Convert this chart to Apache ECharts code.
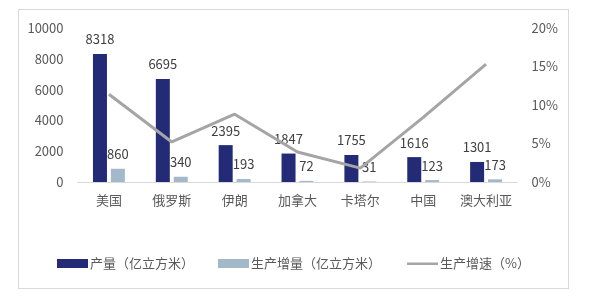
<!DOCTYPE html>
<html><head><meta charset="utf-8">
<script src="https://cdn.jsdelivr.net/npm/echarts@6/dist/echarts.min.js"></script>
<style>html,body{margin:0;padding:0;background:#fff}#frame{position:absolute;left:18px;top:9px;width:551px;height:280px;border:1px solid #d9d9d9;box-sizing:border-box}#c{position:absolute;left:0;top:0;width:594px;height:301px}</style>
</head><body><div id="frame"></div><div id="c"></div>
<script>
var categories = ['美国','俄罗斯','伊朗','加拿大','卡塔尔','中国','澳大利亚'];
var production = [8318, 6695, 2395, 1847, 1755, 1616, 1301];
var increase = [860, 340, 193, 72, 31, 123, 173];
var growth = [11.4, 5.2, 8.8, 3.9, 1.8, 8.4, 15.3];
var leftTicks = {min: 0, max: 10000, interval: 2000};
var rightTicks = {min: 0, max: 20, interval: 5};
var names = ['产量（亿立方米）', '生产增量（亿立方米）', '生产增速（%）'];

var font = '"Microsoft YaHei","Noto Sans CJK SC",sans-serif';
var lineIcon = 'path://M0,0L0.01,0L0,0.01Z M0,3.5L31,3.5L31,6L0,6Z M0,9L0.01,9L0,8.99Z';
var legendLefts = [57, 218, 407];
var icons = ['rect', 'rect', lineIcon];
var legends = names.map(function (n, i) {
  return {
    top: 257, left: legendLefts[i], padding: 0, itemWidth: 31, itemHeight: 9,
    textStyle: {fontSize: 13, color: '#595959', fontFamily: font, padding: [0, 0, 0, -3]},
    data: [{name: n, icon: icons[i]}]
  };
});
var chart = echarts.init(document.getElementById('c'));
chart.setOption({
  animation: false,
  textStyle: {fontFamily: font},
  grid: {left: 77.5, right: 76.5, top: 28, bottom: 119},
  legend: legends,
  xAxis: {
    type: 'category', data: categories,
    axisLine: {lineStyle: {color: '#d9d9d9', width: 1}},
    axisTick: {show: false},
    axisLabel: {color: '#595959', fontSize: 13, margin: 12, interval: 0}
  },
  yAxis: [
    {type: 'value', min: leftTicks.min, max: leftTicks.max, interval: leftTicks.interval,
     splitLine: {show: false}, axisLine: {show: false}, axisTick: {show: false},
     axisLabel: {color: '#595959', fontSize: 13, margin: 14, formatter: function (v) { return String(v); }}},
    {type: 'value', min: rightTicks.min, max: rightTicks.max, interval: rightTicks.interval,
     splitLine: {show: false}, axisLine: {show: false}, axisTick: {show: false},
     axisLabel: {color: '#595959', fontSize: 13, margin: 14, formatter: '{value}%'}}
  ],
  series: [
    {name: names[0], type: 'bar', data: production, barWidth: 14, barGap: '28%',
     itemStyle: {color: '#232B77'},
     label: {show: true, position: 'top', distance: 8, color: '#404040', fontSize: 13}},
    {name: names[1], type: 'bar', data: increase, barWidth: 14,
     itemStyle: {color: '#A3B8C9'},
     label: {show: true, position: 'top', distance: 8, color: '#404040', fontSize: 13}},
    {name: names[2], type: 'line', yAxisIndex: 1, data: growth, showSymbol: false, symbol: 'none',
     lineStyle: {color: '#A5A5A5', width: 3}, itemStyle: {color: '#A5A5A5'}}
  ]
});
</script></body></html>
